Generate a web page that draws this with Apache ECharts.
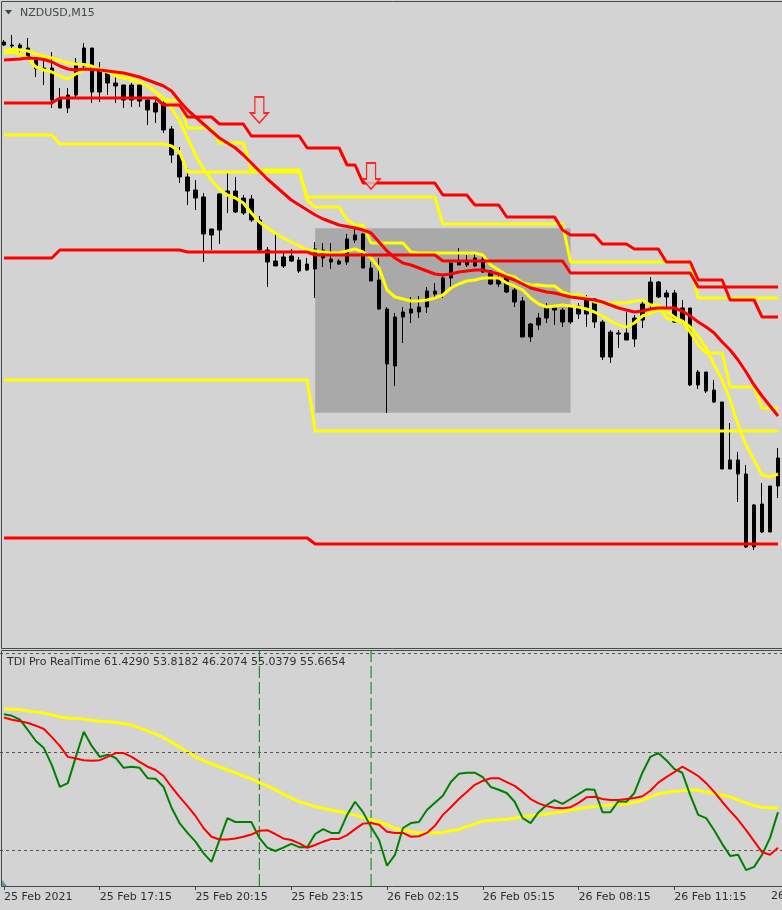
<!DOCTYPE html>
<html><head><meta charset="utf-8">
<script src="https://cdn.jsdelivr.net/npm/echarts@6/dist/echarts.min.js"></script>
<style>html,body{margin:0;padding:0;background:#d3d3d3;overflow:hidden}#c{width:782px;height:910px}</style>
</head><body><div id="c"></div><script>
// ---- bar times (M15) ----
const barTimes = [];
for (let i = 0; i < 98; i++) {
  const d = new Date(Date.UTC(2021, 1, 25, 14, 15) + i * 900000);
  barTimes.push(d.toISOString().slice(0, 16).replace('T', ' '));
}
const tickLabels = ['25 Feb 2021','25 Feb 17:15','25 Feb 20:15','25 Feb 23:15','26 Feb 02:15','26 Feb 05:15','26 Feb 08:15','26 Feb 11:15','26 Feb 14:15'];

// ---- NZDUSD candles ----
const open = [
.7458,.7455,.7455,.7452,.7442,.7431,.7432,.7402,.7392,.7405,
.7434,.7452,.7408,.7428,.7417,.7415,.7400,.7415,.7400,.7388,
.7397,.7371,.7345,.7323,.7310,.7303,.7265,.7270,.7306,.7309,
.7287,.7301,.7280,.7250,.7239,.7234,.7244,.7240,.7230,.7231,
.7250,.7241,.7239,.7238,.7260,.7266,.7232,.7220,.7191,.7134,
.7183,.7187,.7188,.7193,.7209,.7206,.7222,.7238,.7235,.7234,
.7241,.7229,.7216,.7223,.7210,.7199,.7163,.7175,.7182,.7192,
.7190,.7178,.7194,.7186,.7201,.7178,.7143,.7167,.7167,.7161,
.7180,.7195,.7218,.7203,.7207,.7178,.7192,.7115,.7128,.7110,
.7098,.7031,.7040,.7026,.6953,.6996,.6968,.7014];
const close = [
.7455,.7454,.7452,.7443,.7431,.7432,.7400,.7392,.7405,.7437,
.7452,.7408,.7429,.7417,.7414,.7400,.7415,.7399,.7390,.7397,
.7370,.7345,.7323,.7309,.7302,.7266,.7271,.7306,.7309,.7288,
.7302,.7280,.7250,.7238,.7234,.7243,.7239,.7229,.7236,.7251,
.7242,.7238,.7236,.7261,.7265,.7232,.7219,.7191,.7136,.7183,
.7188,.7191,.7193,.7209,.7206,.7222,.7237,.7235,.7239,.7242,
.7228,.7216,.7222,.7208,.7198,.7163,.7176,.7182,.7192,.7190,
.7178,.7193,.7186,.7201,.7178,.7143,.7168,.7166,.7160,.7182,
.7196,.7218,.7203,.7207,.7178,.7192,.7115,.7128,.7109,.7098,
.7031,.7040,.7026,.6953,.6995,.6968,.7014,.7042];
const low = [
.7454,.7450,.7445,.7442,.7423,.7415,.7392,.7392,.7387,.7403,
.7430,.7397,.7398,.7405,.7397,.7392,.7393,.7393,.7375,.7377,
.7367,.7337,.7317,.7295,.7290,.7238,.7250,.7256,.7287,.7287,
.7285,.7278,.7248,.7213,.7234,.7232,.7238,.7227,.7229,.7202,
.7233,.7231,.7235,.7235,.7257,.7232,.7219,.7190,.7087,.7114,
.7157,.7177,.7182,.7187,.7202,.7202,.7211,.7235,.7233,.7233,
.7227,.7215,.7213,.7207,.7193,.7163,.7158,.7170,.7177,.7175,
.7173,.7176,.7181,.7173,.7172,.7140,.7137,.7152,.7160,.7153,
.7172,.7190,.7202,.7192,.7177,.7175,.7114,.7111,.7107,.7097,
.7031,.7031,.6998,.6952,.6950,.6967,.6968,.7002];
const high = [
.7460,.7465,.7457,.7462,.7443,.7442,.7448,.7412,.7412,.7442,
.7457,.7452,.7438,.7428,.7425,.7415,.7417,.7415,.7403,.7400,
.7402,.7374,.7353,.7332,.7320,.7307,.7271,.7307,.7327,.7323,
.7305,.7305,.7284,.7253,.7268,.7249,.7251,.7243,.7242,.7258,
.7257,.7257,.7241,.7266,.7272,.7267,.7238,.7242,.7193,.7187,
.7193,.7203,.7204,.7213,.7217,.7225,.7240,.7252,.7245,.7248,
.7245,.7230,.7225,.7227,.7212,.7203,.7177,.7187,.7197,.7192,
.7192,.7194,.7197,.7205,.7202,.7180,.7170,.7170,.7188,.7185,
.7200,.7223,.7219,.7210,.7210,.7200,.7192,.7130,.7128,.7120,
.7098,.7077,.7048,.7035,.6996,.7017,.7014,.7052];

// ---- main-chart indicator lines ----
const redMA = [
.7440,.74405,.7441,.7442,.74415,.74405,.7438,.7434,.7431,.7430,
.7431,.74305,.7430,.7429,.7428,.7427,.7425,.7423,.7420,.7417,
.7414,.7409,.7399,.7390,.7383,.7376,.7369,.7362,.7357,.7352,
.7345,.7337,.7329,.7321,.7314,.7307,.7300,.7295,.7290,.7285,
.7281,.7278,.7275,.72735,.7272,.7270,.7267,.7258,.7249,.7242,
.7237,.7235,.7232,.7229,.7226,.7225,.7226,.7228,.7229,.7230,
.7230,.7228,.7226,.7223,.7220,.7216,.7212,.7210,.7208,.7207,
.7205,.7203,.7202,.7201,.7200,.7198,.7195,.7192,.7190,.7188,
.7189,.7191,.7192,.7192,.7192,.7189,.7184,.7178,.7173,.7167,
.7158,.7150,.7140,.7128,.7115,.7104,.7094,.7084];
const yellowMA = [
.7449,.74505,.7450,.7449,.7446,.74435,.7442,.74395,.7437,.7436,
.74355,.7434,.7430,.7428,.74255,.7423,.74205,.7418,.7414,.7408,
.7402,.7392,.7379,.7362,.7345,.7331,.7320,.7311,.7305,.7302,
.7297,.7287,.7278,.7272,.7267,.7262,.7258,.7254,.7250,.7249,
.7248,.7247,.7247,.7249,.7251,.7248,.7242,.7232,.7210,.7203,
.7201,.7199,.7199,.7200,.7202,.7205,.7212,.7216,.7219,.7220,
.7222,.7222,.7222,.7217,.7214,.7210,.7202,.7196,.7193,.7194,
.7195,.7194,.7193,.7191,.7188,.7184,.7179,.7175,.7173,.7177,
.7184,.7187,.7190,.7189,.7183,.7179,.7173,.7164,.7152,.7135,
.7120,.7100,.7075,.7055,.7040,.7025,.7023,.7026];
const yellowStop = [
.7447,.7448,.7446,.7442,.7433,.7430,.7428,.7424,.7421,.7426,
.7430,.7431,.7431,.7428,.7424,.7422,.7420,.7418,.7414,.7408,
.7400,.7400,.7400,.7372,.7372,.7372,.7372,.7357,.7357,.7357,
.7357,.7330,.7330,.7330,.7330,.7330,.7330,.7330,.7300,.7293,
.7293,.7293,.7293,.7280,.7275,.7275,.7257,.7257,.7257,.7257,
.7257,.7248,.7247,.7247,.7247,.7247,.7247,.7247,.7247,.7247,
.7245,.7235,.7230,.7225,.7223,.7217,.7215,.7215,.7214,.7214,
.7208,.7205,.7205,.7202,.7198,.7197,.7197,.7197,.7197,.7199,
.7200,.7195,.7195,.7182,.7180,.7178,.7168,.7155,.7147,.7147,
.7147,.7113,.7113,.7113,.7113,.7092,.7092,.7092];
const redUpper = [
.7397,.7397,.7397,.7397,.7397,.7397,.7397,.7402,.7402,.7402,
.7402,.7402,.7402,.7402,.7402,.7402,.7402,.7402,.7402,.7402,
.7395,.7395,.7395,.7383,.7383,.7383,.7383,.7376,.7376,.7376,
.7376,.7364,.7364,.7364,.7364,.7364,.7364,.7364,.7352,.7352,
.7352,.7352,.7352,.7335,.7335,.7317,.7317,.7317,.7317,.7317,
.7317,.7317,.7317,.7317,.7317,.7305,.7305,.7305,.7305,.7295,
.7295,.7295,.7295,.7283,.7283,.7283,.7283,.7283,.7283,.7283,
.7270,.7265,.7265,.7265,.7265,.7256,.7256,.7256,.7256,.7251,
.7251,.7251,.7251,.7238,.7238,.7238,.7238,.7220,.7220,.7220,
.7220,.7200,.7200,.7200,.7200,.7183,.7183,.7183];
const redMiddle = [
.7242,.7242,.7242,.7242,.7242,.7242,.7242,.7250,.7250,.7250,
.7250,.7250,.7250,.7250,.7250,.7250,.7250,.7250,.7250,.7250,
.7250,.7250,.7250,.7248,.7248,.7248,.7248,.7248,.7248,.7248,
.7248,.7248,.7248,.7248,.7248,.7248,.7248,.7248,.7248,.7245,
.7245,.7245,.7245,.7245,.7245,.7245,.7245,.7245,.7245,.7245,
.7245,.7245,.7245,.7245,.7245,.7239,.7239,.7239,.7239,.7239,
.7239,.7239,.7239,.7239,.7239,.7239,.7239,.7239,.7239,.7239,
.7239,.7227,.7227,.7227,.7227,.7227,.7227,.7227,.7227,.7227,
.7227,.7227,.7227,.7227,.7227,.7227,.7227,.7213,.7213,.7213,
.7213,.7213,.7213,.7213,.7213,.7213,.7213,.7213];
const redLower = [
.6962,.6962,.6962,.6962,.6962,.6962,.6962,.6962,.6962,.6962,
.6962,.6962,.6962,.6962,.6962,.6962,.6962,.6962,.6962,.6962,
.6962,.6962,.6962,.6962,.6962,.6962,.6962,.6962,.6962,.6962,
.6962,.6962,.6962,.6962,.6962,.6962,.6962,.6962,.6962,.6956,
.6956,.6956,.6956,.6956,.6956,.6956,.6956,.6956,.6956,.6956,
.6956,.6956,.6956,.6956,.6956,.6956,.6956,.6956,.6956,.6956,
.6956,.6956,.6956,.6956,.6956,.6956,.6956,.6956,.6956,.6956,
.6956,.6956,.6956,.6956,.6956,.6956,.6956,.6956,.6956,.6956,
.6956,.6956,.6956,.6956,.6956,.6956,.6956,.6956,.6956,.6956,
.6956,.6956,.6956,.6956,.6956,.6956,.6956,.6956];
const yellowUpper = [
.7365,.7365,.7365,.7365,.7365,.7365,.7365,.7356,.7356,.7356,
.7356,.7356,.7356,.7356,.7356,.7356,.7356,.7356,.7356,.7356,
.7356,.7354,.7348,.7328,.7328,.7328,.7328,.7328,.7328,.7328,
.7328,.7328,.7328,.7328,.7328,.7328,.7328,.7328,.7303,.7303,
.7303,.7303,.7303,.7303,.7303,.7303,.7303,.7303,.7303,.7303,
.7303,.7303,.7303,.7303,.7303,.7276,.7276,.7276,.7276,.7276,
.7276,.7276,.7276,.7276,.7276,.7276,.7276,.7276,.7276,.7276,
.7276,.7238,.7238,.7238,.7238,.7238,.7238,.7238,.7238,.7238,
.7238,.7238,.7238,.7238,.7238,.7238,.7238,.7202,.7202,.7202,
.7202,.7202,.7202,.7202,.7202,.7202,.7202,.7202];
const yellowLower = [
.7120,.7120,.7120,.7120,.7120,.7120,.7120,.7120,.7120,.7120,
.7120,.7120,.7120,.7120,.7120,.7120,.7120,.7120,.7120,.7120,
.7120,.7120,.7120,.7120,.7120,.7120,.7120,.7120,.7120,.7120,
.7120,.7120,.7120,.7120,.7120,.7120,.7120,.7120,.7120,.7069,
.7069,.7069,.7069,.7069,.7069,.7069,.7069,.7069,.7069,.7069,
.7069,.7069,.7069,.7069,.7069,.7069,.7069,.7069,.7069,.7069,
.7069,.7069,.7069,.7069,.7069,.7069,.7069,.7069,.7069,.7069,
.7069,.7069,.7069,.7069,.7069,.7069,.7069,.7069,.7069,.7069,
.7069,.7069,.7069,.7069,.7069,.7069,.7069,.7069,.7069,.7069,
.7069,.7069,.7069,.7069,.7069,.7069,.7069,.7069];

// sell arrows (bar index, price) and highlighted box
const arrowBars = [32, 46];
const arrowPrices = [0.7390, 0.7324];
const boxBars = [39, 71];
const boxPrices = [0.72717, 0.70873];

// ---- TDI ----
const tdiGreen = [
56.9,56.6,55.9,54.0,52.0,50.7,47.6,43.6,44.3,49.1,
53.7,51.1,49.1,49.5,48.9,47.1,47.3,47.1,45.2,45.1,
43.6,39.8,37.0,35.2,33.6,31.5,29.9,33.9,37.9,37.2,
37.2,37.2,34.3,32.5,31.9,32.5,33.2,32.6,32.6,35.0,
35.9,35.2,35.2,38.5,40.9,39.0,36.3,33.9,29.2,31.2,
36.1,37.0,37.2,39.4,40.7,42.0,44.5,46.0,46.2,46.2,
45.4,43.6,43.1,42.5,40.9,37.9,37.0,39.0,40.3,41.2,
40.5,41.4,42.3,43.2,43.1,39.0,39.0,41.0,40.9,42.5,
46.2,49.1,49.8,48.5,46.9,46.2,42.1,38.5,37.9,35.7,
33.2,31.0,31.2,28.4,29.0,31.2,34.3,39.0];
const tdiRed = [
56.3,55.9,55.6,55.3,54.8,54.2,52.7,51.1,49.1,48.8,
48.5,48.4,48.5,49.1,49.8,49.8,49.1,48.2,47.3,46.7,
45.6,43.6,41.8,40.1,38.3,36.1,34.5,34.0,34.0,34.2,
34.5,34.9,35.6,35.7,35.0,34.2,33.9,33.3,32.5,33.0,
33.6,34.1,34.1,34.8,35.9,36.9,37.0,36.7,35.4,35.2,
35.2,34.5,34.6,35.2,36.5,38.5,39.9,41.4,42.7,44.0,
44.7,45.2,45.2,44.5,43.8,42.7,41.4,40.6,40.1,39.8,
39.7,39.9,40.7,41.7,41.8,41.4,41.2,41.2,41.4,41.6,
41.9,42.9,44.4,45.4,46.3,47.3,46.5,45.6,44.3,42.7,
40.9,39.2,37.6,35.7,33.7,31.7,31.2,32.5];
const tdiYellow = [
57.9,57.8,57.7,57.5,57.3,57.1,56.8,56.4,56.2,56.1,
56.0,55.8,55.6,55.5,55.4,55.2,54.9,54.4,53.8,53.3,
52.6,51.8,50.9,50.0,49.1,48.4,47.8,47.3,46.7,46.2,
45.6,45.1,44.4,43.8,43.1,42.3,41.6,40.9,40.5,40.0,
39.7,39.4,39.1,38.8,38.5,38.0,37.6,37.2,36.7,36.0,
35.7,35.4,35.2,35.2,35.2,35.3,35.6,35.8,36.4,36.8,
37.4,37.5,37.6,37.7,37.9,38.1,38.3,38.5,38.7,38.9,
39.1,39.4,39.6,39.9,40.0,40.2,40.3,40.4,40.5,40.8,
41.2,41.8,42.4,42.6,42.8,42.9,43.1,43.0,42.7,42.4,
42.1,41.8,41.2,40.7,40.2,39.9,39.8,39.8];
const tdiLevels = [68, 50, 32];
const tdiRange = [25.5, 68.45];
const tdiTitle = 'TDI Pro RealTime 61.4290 53.8182 46.2074 55.0379 55.6654';

// ---- chart ----
const FONT = '"DejaVu Sans", Verdana, sans-serif';
const N = barTimes.length;
const LAST_TICK = 96;
const GREEN = '#008000';
const candles = open.map((o, i) => [o, close[i], low[i], high[i]]);
const chart = echarts.init(document.getElementById('c'), null, {renderer: 'canvas'});
function mline(name, data, color, width, xi, yi, z) {
  return {name, type: 'line', data, xAxisIndex: xi, yAxisIndex: yi, symbol: 'none', silent: true,
    color, lineStyle: {color, width}, itemStyle: {color}, z: z || 4};
}
// vertical dashed event lines in the TDI window (one per arrow bar)
const vLines = arrowBars.map((b, k) => ({
  name: 'vline' + k, type: 'line', xAxisIndex: 1, yAxisIndex: 1, symbol: 'none', silent: true, z: 3,
  data: [[b, tdiRange[0]], [b, tdiRange[1]]],
  color: GREEN, lineStyle: {color: GREEN, width: 1, type: [12, 4]}
}));
chart.setOption({
  animation: false,
  backgroundColor: '#d3d3d3',
  grid: [
    {left: -1.3, width: 784, top: 2, height: 646},
    {left: -1.3, width: 784, top: 651, height: 235}
  ],
  xAxis: [
    {type: 'category', data: barTimes, gridIndex: 0, boundaryGap: true, min: 0, max: N - 1, show: false},
    {type: 'category', data: barTimes, gridIndex: 1, boundaryGap: true, min: 0, max: N - 1,
     axisLine: {show: false},
     axisTick: {show: true, alignWithLabel: true, length: 4, interval: (i) => i % 12 === 0, lineStyle: {color: '#3a4a4a'}},
     axisLabel: {show: true, interval: (i) => i % 12 === 0,
       formatter: (v, i) => (i === LAST_TICK ? '' : tickLabels[Math.round(i / 12)]),
       align: 'left', margin: 6, color: '#2f2f2f', fontFamily: FONT, fontSize: 11, hideOverlap: false,
       showMinLabel: true, showMaxLabel: false},
     splitLine: {show: false}}
  ],
  yAxis: [
    {type: 'value', gridIndex: 0, min: 0.6852, max: 0.7498, show: false, splitLine: {show: false}},
    {type: 'value', gridIndex: 1, min: tdiRange[0], max: tdiRange[1], show: false, splitLine: {show: false}}
  ],
  series: [
    {type: 'line', data: [], xAxisIndex: 0, yAxisIndex: 0, z: 1, silent: true,
     markArea: {silent: true, itemStyle: {color: '#a9a9a9'},
       data: [[{xAxis: boxBars[0], yAxis: boxPrices[0]}, {xAxis: boxBars[1], yAxis: boxPrices[1]}]]}},
    {type: 'candlestick', data: candles, xAxisIndex: 0, yAxisIndex: 0, barWidth: 4, z: 3, silent: true,
     itemStyle: {color: '#000', color0: '#000', borderColor: '#000', borderColor0: '#000', borderWidth: 1}},
    mline('yLower', yellowLower, '#ffff00', 3, 0, 0),
    mline('yUpper', yellowUpper, '#ffff00', 3, 0, 0),
    mline('yStop', yellowStop, '#ffff00', 3, 0, 0),
    mline('yMA', yellowMA, '#ffff00', 3, 0, 0),
    mline('rLower', redLower, '#ff0000', 3, 0, 0, 5),
    mline('rMiddle', redMiddle, '#ff0000', 3, 0, 0, 5),
    mline('rUpper', redUpper, '#ff0000', 3, 0, 0, 5),
    mline('rMA', redMA, '#ff0000', 3, 0, 0, 5),
    {type: 'scatter', xAxisIndex: 0, yAxisIndex: 0, z: 6, silent: true,
     data: arrowBars.map((b, i) => [b, arrowPrices[i]]),
     symbol: 'path://M4.5,0 L13.5,0 L13.5,16 L18,16 L9,26 L0,16 L4.5,16 Z', symbolSize: [18, 26],
     itemStyle: {color: '#d8d0d0', borderColor: '#ff0000', borderWidth: 1.5}},
    Object.assign(mline('tdiYellow', tdiYellow, '#ffff00', 3, 1, 1, 4), {
      markLine: {silent: true, symbol: ['none', 'none'], label: {show: false},
        lineStyle: {color: '#555', type: [3, 3], width: 1},
        data: tdiLevels.map(v => ({yAxis: v}))}}),
    ...vLines,
    mline('tdiGreen', tdiGreen, GREEN, 2, 1, 1, 5),
    mline('tdiRed', tdiRed, '#ff0000', 2, 1, 1, 6)
  ],
  graphic: [
    {type: 'rect', z: 100, silent: true, shape: {x: 1.5, y: 1.5, width: 800, height: 647}, style: {fill: null, stroke: '#3e4e4e', lineWidth: 1}},
    {type: 'rect', z: 100, silent: true, shape: {x: 1.5, y: 650.5, width: 800, height: 236}, style: {fill: null, stroke: '#3e4e4e', lineWidth: 1}},
    {type: 'polygon', z: 100, silent: true, shape: {points: [[5, 10], [12, 10], [8.5, 14.5]]}, style: {fill: '#3a4a4a'}},
    {type: 'text', z: 100, silent: true, left: 20, top: 8, style: {text: 'NZDUSD,M15', font: '11px ' + FONT, fill: '#3a4a4a'}},
    {type: 'text', z: 100, silent: true, left: 7, top: 657, style: {text: tdiTitle, font: '11px ' + FONT, fill: '#2f2f2f'}},
    {type: 'text', z: 100, silent: true, left: 771, top: 891, style: {text: tickLabels[8], font: '11px ' + FONT, fill: '#2f2f2f'}},
    {type: 'polygon', z: 100, silent: true, shape: {points: [[2, 880], [2, 886], [7, 886]]}, style: {fill: '#5f9ea0'}}
  ]
});
</script></body></html>
